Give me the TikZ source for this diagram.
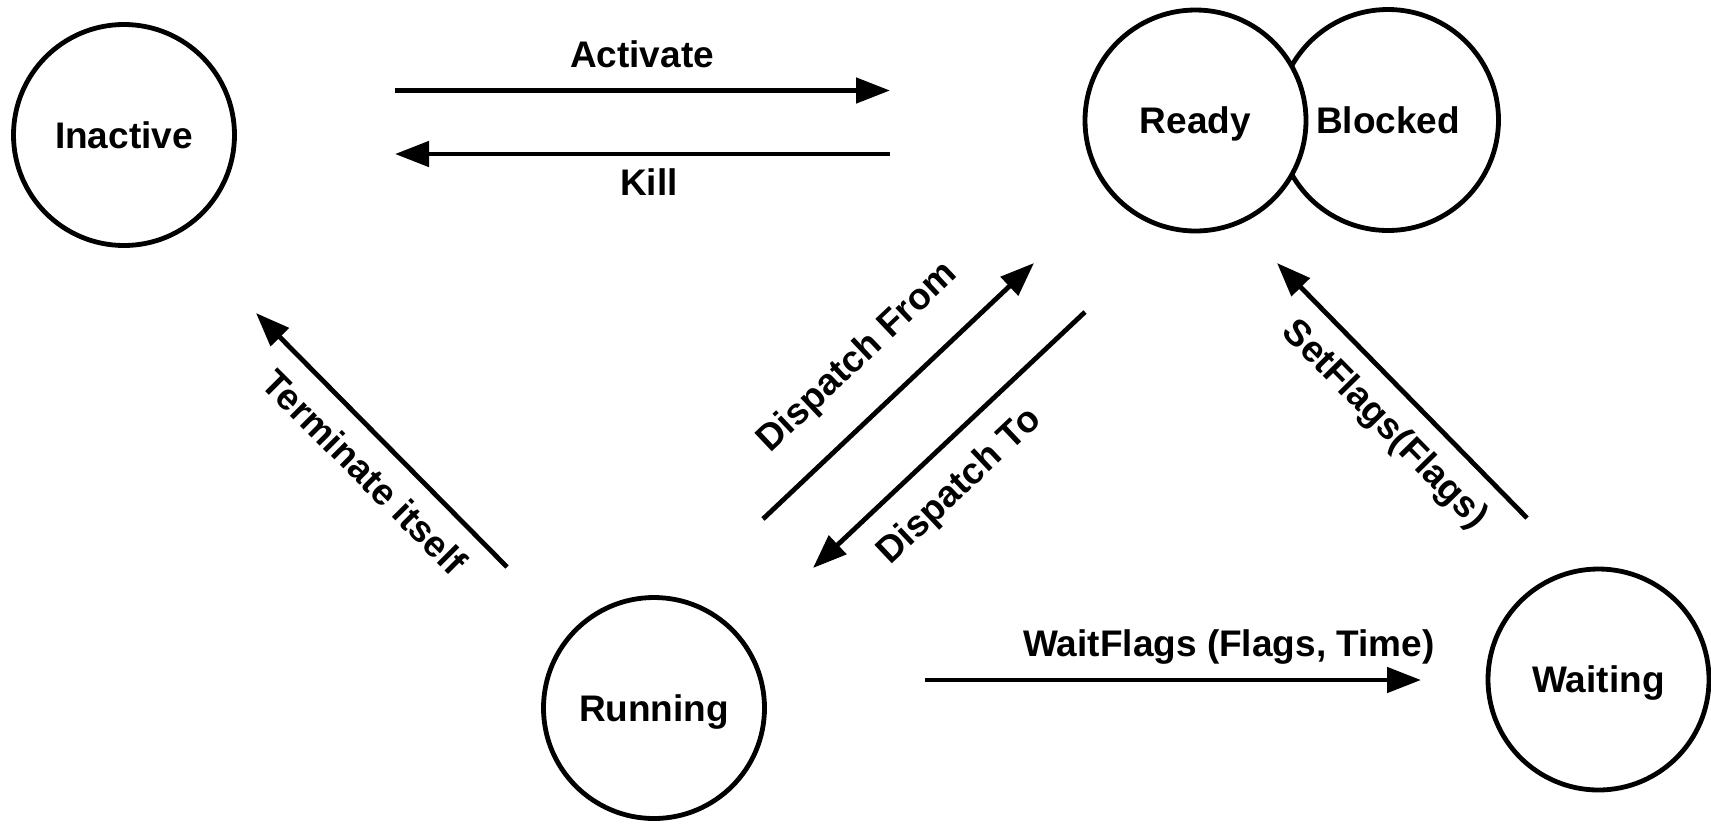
\documentclass[tikz,border=0pt]{standalone}
\usepackage{fontspec}
\setmainfont{Liberation Sans}
\usetikzlibrary{arrows.meta}
\begin{document}
\begin{tikzpicture}[x=1pt,y=-1pt,
  state/.style={circle,draw=black,line width=4.8pt,fill=white,inner sep=0pt,minimum size=221pt,
    font=\fontsize{37}{44}\selectfont\bfseries,text height=26.5pt,text depth=0pt},
  lbl/.style={font=\fontsize{37}{44}\selectfont\bfseries,inner sep=0pt},
  arr/.style={line width=4.8pt,-{Triangle[length=34pt,width=25pt]}}]
\useasboundingbox (0,0) rectangle (1711,823);
% states
\node[state] (inactive) at (124,135) {Inactive};
\node[state] (blocked) at (1388,120) {Blocked};
\node[state] (ready) at (1195.5,120.5) {Ready};
\node[state] (running) at (654,708) {Running};
\node[state] (waiting) at (1598.5,679.5) {Waiting};
% connector end points
\coordinate (actA) at (395,90.5);   \coordinate (actB) at (890,90.5);
\coordinate (killA) at (890,154); \coordinate (killB) at (395,154);
\coordinate (termA) at (507,567); \coordinate (termB) at (256,313);
\coordinate (dfA) at (763,519);   \coordinate (dfB) at (1034,263);
\coordinate (dtA) at (1085,312);  \coordinate (dtB) at (813,568);
\coordinate (sfA) at (1527,518);  \coordinate (sfB) at (1277,263);
\coordinate (wfA) at (925,680);   \coordinate (wfB) at (1421,680);
% connectors
\draw[arr] (actA) -- (actB);
\draw[arr] (killA) -- (killB);
\draw[arr] (termA) -- (termB);
\draw[arr] (dfA) -- (dfB);
\draw[arr] (dtA) -- (dtB);
\draw[arr] (sfA) -- (sfB);
\draw[arr] (wfA) -- (wfB);
% labels
\node[lbl,anchor=base] (lact) at (642,67) {Activate};
\node[lbl,anchor=base] (lkill) at (649,195) {Kill};
\node[lbl,anchor=base] (lwf) at (1229,656) {WaitFlags (Flags, Time)};
\node[lbl,rotate=-45] (lterm) at (365,472) {Terminate itself};
\node[lbl,rotate=43.4] (ldf) at (858,358) {Dispatch From};
\node[lbl,rotate=43.3] (ldt) at (960,487) {Dispatch To};
\node[lbl,rotate=-45.5] (lsf) at (1384,425) {SetFlags(Flags)};
\end{tikzpicture}
\end{document}
